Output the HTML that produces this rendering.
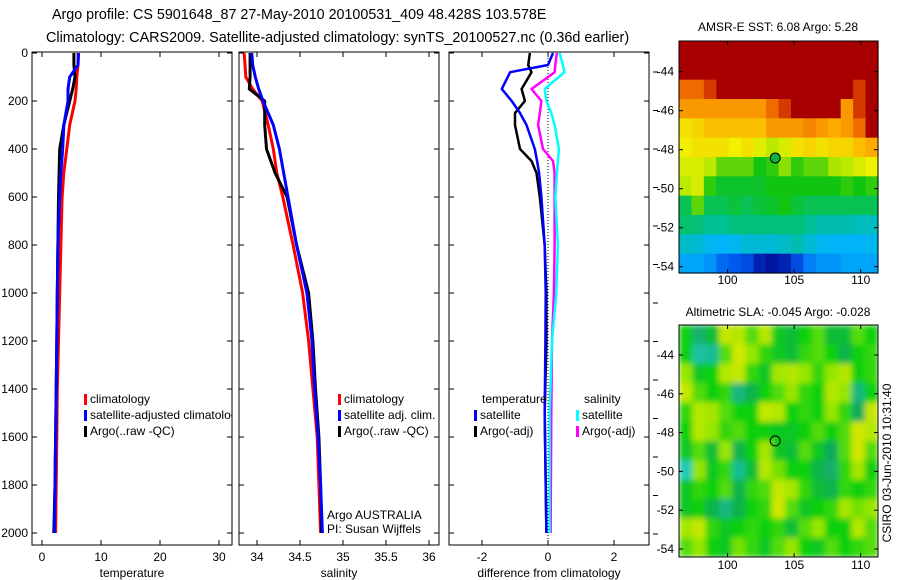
<!DOCTYPE html>
<html><head><meta charset="utf-8"><style>
html,body{margin:0;padding:0;background:#fff;}
svg{display:block;font-family:"Liberation Sans",sans-serif;}
</style></head><body>
<svg id="fig" width="900" height="580" viewBox="0 0 900 580" xmlns="http://www.w3.org/2000/svg">
<defs>
<filter id="blur" x="0" y="0" width="100%" height="100%"><feGaussianBlur stdDeviation="3" edgeMode="duplicate"/></filter>
<clipPath id="clipM2"><rect x="679" y="325" width="199" height="232"/></clipPath>
<clipPath id="clipP1"><rect x="32" y="52" width="200" height="493"/></clipPath>
</defs>
<text x="52" y="19" font-size="14.3">Argo profile: CS 5901648_87 27-May-2010 20100531_409 48.428S 103.578E</text>
<text x="46" y="42" font-size="14.4">Climatology: CARS2009. Satellite-adjusted climatology: synTS_20100527.nc (0.36d earlier)</text>
<g id="g"></g>
</svg>
<script>
// ---- profile data ----
const depthTS = [0,50,100,150,200,300,400,500,600,800,1000,1200,1400,1600,1800,2000];
const tempClim = [6.1,6.1,5.9,5.8,5.6,4.7,4.2,3.7,3.4,3.2,3.0,2.8,2.6,2.5,2.4,2.3];
const tempSat  = [6.2,6.1,4.7,4.4,4.4,3.7,3.5,3.2,3.0,2.7,2.6,2.5,2.4,2.3,2.2,2.1];
const tempArgo = [5.4,5.4,5.6,5.2,4.7,3.7,3.0,2.9,2.8,2.7,2.6,2.5,2.4,2.3,2.2,2.0];
const salClim = [33.85,33.86,33.87,33.95,34.06,34.13,34.19,34.23,34.30,34.42,34.53,34.60,34.65,34.70,34.72,34.74];
const salSat  = [33.94,33.95,33.98,34.02,34.07,34.19,34.26,34.31,34.36,34.46,34.58,34.64,34.67,34.71,34.74,34.76];
const salArgo = [33.92,33.92,33.92,33.91,34.09,34.09,34.11,34.21,34.35,34.46,34.60,34.65,34.68,34.72,34.74,34.75];
const depthDiff = [0,50,80,150,200,250,300,400,450,500,600,800,1000,1200,1500,2000];
const diffTSat  = [0.15,0,-1.15,-1.4,-1.1,-0.85,-0.65,-0.4,-0.33,-0.27,-0.2,-0.1,-0.07,-0.08,-0.1,-0.05];
const diffTArgo = [-0.55,-0.6,-0.5,-0.8,-0.7,-1.0,-1.0,-0.85,-0.5,-0.35,-0.25,-0.1,-0.05,-0.05,-0.1,-0.05];
const diffSArgo = [0.27,0.22,0.2,-0.5,-0.2,-0.25,-0.3,-0.15,0.15,0.2,0.2,0.2,0.18,0.12,0.1,0.08];
const diffSSat  = [0.35,0.45,0.5,-0.1,-0.05,0.1,0.2,0.33,0.3,0.27,0.22,0.3,0.25,0.12,0.05,0.05];
const depthTicks = [0,200,400,600,800,1000,1200,1400,1600,1800,2000];
const tempTicks = [0,10,20,30];
const salTicks = [34,34.5,35,35.5,36];
const salTickLabels = ["34","34.5","35","35.5","36"];
const diffTicks = [-2,0,2];
// ---- map data (normalized colour index) ----
const sstGrid = [
[1,1,1,1,1,1,1,1,1,1,1,1,1,1,1,1],
[0.95,0.95,1,1,1,1,1,1,1,1,1,1,1,1,0.95,1],
[0.85,0.85,0.9,1,1,1,1,1,1,1,0.95,1,1,0.95,0.9,0.95],
[0.8,0.8,0.8,0.8,0.8,0.8,0.8,0.85,0.9,1,1,1,0.95,0.8,0.9,0.95],
[0.7,0.72,0.75,0.75,0.75,0.75,0.75,0.8,0.8,0.8,0.82,0.8,0.78,0.8,0.85,0.95],
[0.68,0.7,0.7,0.7,0.68,0.7,0.66,0.62,0.65,0.7,0.72,0.7,0.72,0.72,0.75,0.78],
[0.65,0.65,0.62,0.55,0.55,0.55,0.5,0.52,0.58,0.52,0.55,0.55,0.6,0.62,0.65,0.68],
[0.62,0.65,0.52,0.48,0.48,0.48,0.48,0.5,0.5,0.5,0.5,0.5,0.5,0.52,0.5,0.52],
[0.45,0.55,0.45,0.45,0.47,0.45,0.47,0.48,0.5,0.47,0.45,0.45,0.45,0.45,0.45,0.45],
[0.43,0.42,0.4,0.4,0.42,0.42,0.42,0.42,0.42,0.42,0.4,0.38,0.38,0.38,0.37,0.37],
[0.36,0.35,0.33,0.32,0.33,0.35,0.35,0.35,0.36,0.38,0.35,0.33,0.32,0.32,0.32,0.33],
[0.3,0.3,0.28,0.22,0.2,0.18,0.12,0.1,0.12,0.18,0.25,0.28,0.28,0.3,0.3,0.3]];
const slaGrid = [
[.5,.25,.4,.85,.8,.6,.8,.45,.4,.5,.6,.4,.4,.6,.5],
[.5,.1,.15,.6,.9,.7,.55,.45,.4,.55,.6,.5,.35,.5,.55],
[.7,.45,.5,.8,.85,.55,.45,.75,.8,.7,.55,.7,.8,.5,.55],
[.85,.6,.5,.55,.2,.35,.5,.6,.7,.55,.5,.8,.7,.2,.5],
[.55,.8,.75,.6,.5,.5,.85,.8,.5,.55,.5,.7,.55,.3,.85],
[.5,.8,.7,.55,.6,.5,.5,.45,.45,.5,.6,.5,.6,.9,.8],
[.45,.6,.4,.7,.35,.5,.75,.45,.4,.6,.45,.3,.6,.9,.6],
[.05,.7,.45,.55,.15,.4,.8,.65,.5,.5,.35,.25,.55,.75,.5],
[.45,.55,.5,.6,.35,.55,.6,.85,.75,.55,.4,.35,.55,.5,.55],
[.45,.5,.35,.2,.35,.5,.55,.9,.6,.45,.5,.55,.75,.65,.7],
[.75,.85,.55,.45,.5,.55,.5,.55,.4,.6,.7,.5,.5,.8,.6],
[.6,.7,.5,.45,.65,.55,.45,.6,.7,.5,.45,.6,.5,.55,.6]];
const lonTicks = [100,105,110];
const latTicks = [-44,-46,-48,-50,-52,-54];
const argoLon = 103.578, argoLat = -48.428;

const NS="http://www.w3.org/2000/svg";
const G=document.getElementById('g');
function el(tag,attrs,parent){const e=document.createElementNS(NS,tag);for(const k in attrs)e.setAttribute(k,attrs[k]);(parent||G).appendChild(e);return e;}
function txt(x,y,s,size,anchor,parent){const t=el('text',{x:x,y:y,'font-size':size,'text-anchor':anchor||'start'},parent);t.textContent=s;return t;}

const yTop=52, yBot=545;
const yD=d=>53+0.24*d;
const panels=[
 {x0:32,x1:232,f:v=>42+5.9*v,name:'temperature-panel'},
 {x0:239,x1:439,f:v=>257+86*(v-34),name:'salinity-panel'},
 {x0:449,x1:649,f:v=>548+33*v,name:'difference-panel'}];

panels.forEach((p,i)=>{
 const r=el('rect',{x:p.x0,y:yTop,width:p.x1-p.x0,height:yBot-yTop,fill:'none',stroke:'#000','stroke-width':1});
 
 
 depthTicks.forEach(d=>{
  el('line',{x1:p.x0,x2:p.x0+5,y1:yD(d),y2:yD(d),stroke:'#000'});
  el('line',{x1:p.x1-5,x2:p.x1,y1:yD(d),y2:yD(d),stroke:'#000'});
 });
});
depthTicks.forEach(d=>{
 const t=txt(28,yD(d)+4,String(d),12,'end');
 
 
});
function xticks(p,vals,labels,title){
 vals.forEach((v,i)=>{
  const x=p.f(v);
  el('line',{x1:x,x2:x,y1:yTop,y2:yTop+5,stroke:'#000'});
  el('line',{x1:x,x2:x,y1:yBot-5,y2:yBot,stroke:'#000'});
  const t=txt(x,561,labels[i],12,'middle');
  
  
 });
 const tt=txt((p.x0+p.x1)/2,577,title,12,'middle');
 
 
}
xticks(panels[0],tempTicks,tempTicks.map(String),'temperature');
xticks(panels[1],salTicks,salTickLabels,'salinity');
xticks(panels[2],diffTicks,diffTicks.map(String),'difference from climatology');

const zl=el('line',{x1:panels[2].f(0),x2:panels[2].f(0),y1:yTop,y2:yBot,stroke:'#000','stroke-dasharray':'1,2'});



function profile(p,vals,depths,color,w,name){
 const pts=vals.map((v,i)=>p.f(v).toFixed(1)+','+yD(depths[i]).toFixed(1)).join(' ');
 const pl=el('polyline',{points:pts,fill:'none',stroke:color,'stroke-width':w,'stroke-linejoin':'round'});
 
 
}
profile(panels[0],tempClim,depthTS,'#ff0000',3,'temp-climatology-line');
profile(panels[0],tempArgo,depthTS,'#000',3,'temp-argo-line');
profile(panels[0],tempSat,depthTS,'#0000ff',3,'temp-satellite-line');
profile(panels[1],salClim,depthTS,'#ff0000',3,'sal-climatology-line');
profile(panels[1],salArgo,depthTS,'#000',3,'sal-argo-line');
profile(panels[1],salSat,depthTS,'#0000ff',3,'sal-satellite-line');
profile(panels[2],diffTArgo,depthDiff,'#000',2.5,'diff-temp-argo-line');
profile(panels[2],diffTSat,depthDiff,'#0000ff',2.5,'diff-temp-satellite-line');
profile(panels[2],diffSArgo,depthDiff,'#ff00ff',2.5,'diff-sal-argo-line');
profile(panels[2],diffSSat,depthDiff,'#00ffff',2.5,'diff-sal-satellite-line');

const legP1=el('g',{'clip-path':'url(#clipP1)'});
function legend(x,y,color,label,parent){
 const m=el('rect',{x:x,y:y-9,width:3,height:11,fill:color},parent);
 
 
 const t=txt(x+6,y,label,12,'start',parent);
 
 
}
legend(84,403,'#ff0000','climatology',legP1);
legend(84,419,'#0000ff','satellite-adjusted climatology',legP1);
legend(84,435,'#000','Argo(..raw -QC)',legP1);
legend(338,403,'#ff0000','climatology');
legend(338,419,'#0000ff','satellite adj. clim.');
legend(338,435,'#000','Argo(..raw -QC)');
let tl=txt(482,403,'temperature',12);
legend(474,419,'#0000ff','satellite');
legend(474,435,'#000','Argo(-adj)');
tl=txt(584,403,'salinity',12);
legend(576,419,'#00ffff','satellite');
legend(576,435,'#ff00ff','Argo(-adj)');
tl=txt(327,519,'Argo AUSTRALIA',12);
tl=txt(327,533,'PI: Susan Wijffels',12);

for(let y=72;y<550;y+=38.5){el('line',{x1:653,x2:658,y1:y,y2:y,stroke:'#000'});}

// ---- maps ----
function ramp(stops,v){
 if(v<=stops[0][0])return 'rgb('+stops[0][1].join(',')+')';
 for(let i=1;i<stops.length;i++){if(v<=stops[i][0]){const a=stops[i-1],b=stops[i];const t=(v-a[0])/(b[0]-a[0]);
  return 'rgb('+a[1].map((c,k)=>Math.round(c+(b[1][k]-c)*t)).join(',')+')';}}
 return 'rgb('+stops[stops.length-1][1].join(',')+')';
}
const sstStops=[[0.1,[0,20,160]],[0.2,[0,90,240]],[0.32,[0,180,250]],[0.4,[0,192,150]],[0.5,[16,196,16]],[0.6,[170,230,0]],[0.68,[240,240,0]],[0.78,[255,170,0]],[0.88,[230,80,0]],[0.95,[168,0,0]]];
const slaStops=[[0,[32,208,200]],[0.3,[16,170,90]],[0.5,[16,208,16]],[0.7,[150,230,0]],[1,[240,232,0]]];
const sstCol=v=>ramp(sstStops,v), slaCol=v=>ramp(slaStops,v);
const mx0=679,mx1=878,lon0=96.35,lon1=111.3;
const lonX=lon=>mx0+(lon-lon0)*(mx1-mx0)/(lon1-lon0);
const maps=[
 {y0:41,y1:273,latY:lat=>71.7+19.5*(-44-lat),grid:sstGrid,col:sstCol,title:'AMSR-E SST: 6.08 Argo: 5.28',ty:31,lab:284,name:'sst-map',blur:false,argoFill:'#10b040'},
 {y0:325,y1:557,latY:lat=>355+19.4*(-44-lat),grid:slaGrid,col:slaCol,title:'Altimetric SLA: -0.045 Argo: -0.028',ty:316,lab:569,name:'sla-map',blur:true,argoFill:'none'}];
maps.forEach(m=>{
 const grp=el('g',m.blur?{'clip-path':'url(#clipM2)'}:{});
 const inner=el('g',m.blur?{filter:'url(#blur)'}:{},grp);
 const rows=m.grid.length,cols=m.grid[0].length;
 const cw=(mx1-mx0)/cols,ch=(m.y1-m.y0)/rows;
 m.grid.forEach((row,ri)=>row.forEach((v,ci)=>{
  const c=el('rect',{x:(mx0+ci*cw).toFixed(2),y:(m.y0+ri*ch).toFixed(2),width:(cw+0.6).toFixed(2),height:(ch+0.6).toFixed(2),fill:m.col(v)},inner);
  
  
 }));
 const fr=el('rect',{x:mx0,y:m.y0,width:mx1-mx0,height:m.y1-m.y0,fill:'none',stroke:'#000'});
 
 
 lonTicks.forEach(l=>{const x=lonX(l);
  el('line',{x1:x,x2:x,y1:m.y0,y2:m.y0+4,stroke:'#000'});
  el('line',{x1:x,x2:x,y1:m.y1-4,y2:m.y1,stroke:'#000'});
  const t=txt(x,m.lab,String(l),12,'middle');
  
  
 });
 latTicks.forEach(l=>{const y=m.latY(l);
  el('line',{x1:mx0,x2:mx0+4,y1:y,y2:y,stroke:'#000'});
  el('line',{x1:mx1-4,x2:mx1,y1:y,y2:y,stroke:'#000'});
  const t=txt(674,y+4,String(l),12,'end');
  
  
 });
 const c=el('circle',{cx:lonX(argoLon),cy:m.latY(argoLat),r:5,fill:m.argoFill,stroke:'#000','stroke-width':1});
 
 
 const t=txt(778,m.ty,m.title,12,'middle');
 
 
});
const cs=txt(0,0,'CSIRO 03-Jun-2010 10:31:40',12,'middle');
cs.setAttribute('transform','translate(891,463) rotate(-90)');


</script>
</body></html>
